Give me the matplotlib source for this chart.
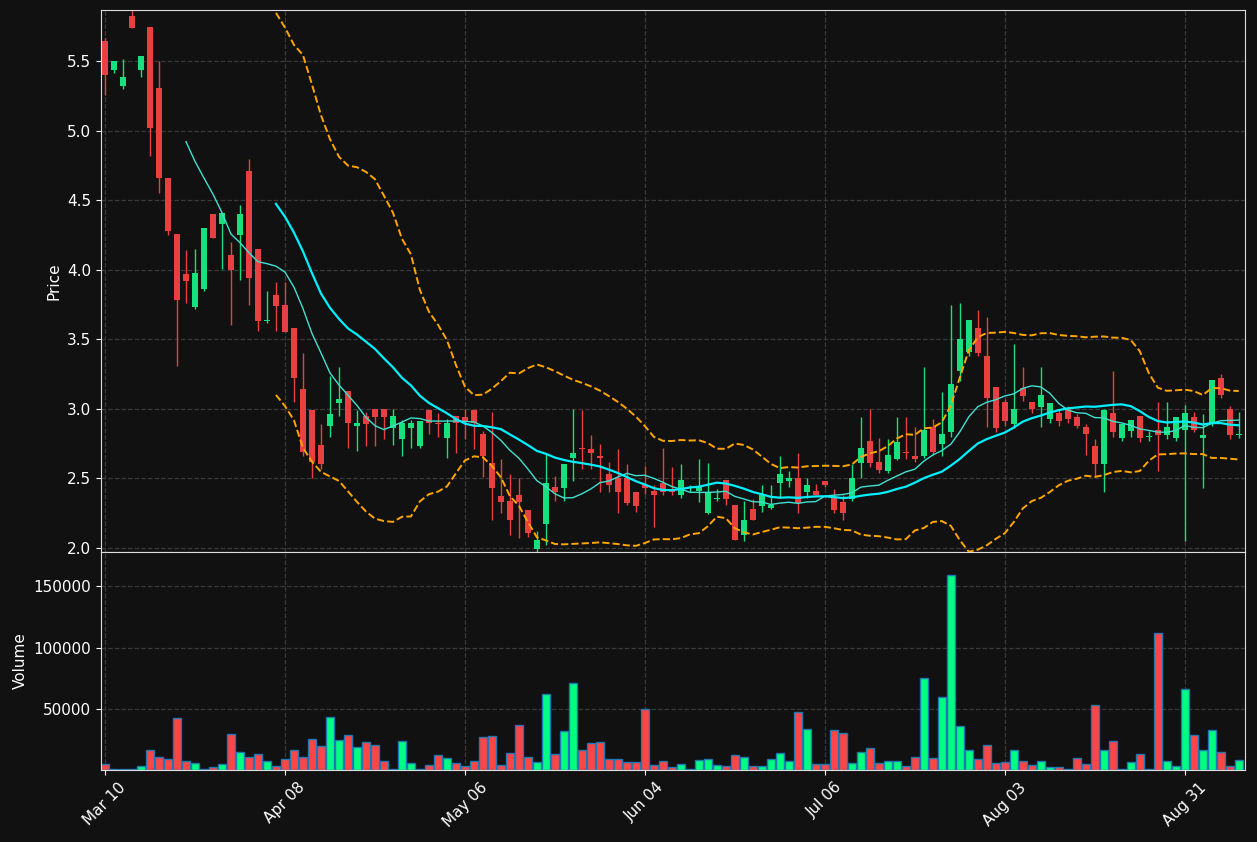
import numpy as np
import pandas as pd
import matplotlib
matplotlib.use("Agg")
import matplotlib.pyplot as plt

opens = [5.65,5.44,5.32,5.83,5.44,5.75,5.31,4.66,4.26,3.97,3.73,3.86,4.40,4.33,4.11,4.25,4.71,4.15,3.63,3.82,
         3.75,3.58,3.14,2.99,2.74,2.88,3.04,3.13,2.88,2.95,3.00,3.00,2.86,2.78,2.86,2.73,2.99,2.90,2.79,2.95,
         2.94,2.99,2.82,2.61,2.37,2.34,2.38,2.27,1.99,2.17,2.44,2.43,2.65,2.72,2.71,2.66,2.53,2.50,2.50,2.40,
         2.45,2.41,2.47,2.41,2.38,2.43,2.41,2.25,2.35,2.49,2.31,2.09,2.28,2.30,2.29,2.47,2.48,2.50,2.40,2.41,
         2.48,2.36,2.33,2.35,2.61,2.77,2.62,2.55,2.64,2.69,2.66,2.66,2.87,2.75,2.83,3.27,3.41,3.58,3.38,3.16,
         3.05,2.89,3.15,3.05,3.01,2.93,2.97,3.00,2.94,2.87,2.73,2.60,2.97,2.79,2.84,2.95,2.80,2.85,2.81,2.79,
         2.85,2.94,2.79,2.90,3.22,3.00,2.81]
highs = [5.67,5.50,5.52,5.90,5.54,5.75,5.50,4.66,4.26,4.14,4.15,4.30,4.40,4.41,4.20,4.47,4.80,4.15,3.85,3.91,
         3.91,3.58,3.40,2.99,2.89,3.24,3.30,3.13,2.99,2.98,3.00,3.00,3.00,2.92,2.92,2.91,2.99,2.97,2.93,2.95,
         3.00,2.99,2.84,2.98,2.64,2.53,2.50,2.27,2.12,2.68,2.52,2.60,3.00,2.99,2.81,2.75,2.62,2.71,2.60,2.40,
         2.59,2.45,2.72,2.58,2.60,2.45,2.64,2.61,2.42,2.49,2.31,2.34,2.35,2.45,2.45,2.66,2.55,2.68,2.50,2.46,
         2.48,2.42,2.38,2.60,2.94,3.00,2.79,2.78,2.94,2.94,2.87,3.30,2.93,3.12,3.75,3.76,3.64,3.71,3.66,3.16,
         3.07,3.47,3.30,3.05,3.30,3.04,3.00,3.02,2.96,2.89,2.78,3.00,3.27,2.89,2.92,2.95,2.84,3.05,3.05,2.94,
         3.03,2.98,2.96,3.21,3.25,3.02,2.98]
lows = [5.26,5.42,5.30,5.74,5.39,4.82,4.55,4.25,3.31,3.76,3.72,3.85,4.23,4.01,3.60,3.93,3.75,3.56,3.62,3.56,
        3.55,3.05,2.66,2.50,2.57,2.80,2.95,2.72,2.70,2.73,2.73,2.78,2.74,2.66,2.72,2.72,2.82,2.80,2.65,2.68,
        2.78,2.71,2.51,2.20,2.25,2.09,2.07,2.08,1.97,2.02,2.34,2.34,2.48,2.57,2.57,2.40,2.40,2.25,2.31,2.26,
        2.39,2.15,2.38,2.38,2.36,2.40,2.33,2.24,2.34,2.31,2.06,2.05,2.20,2.26,2.28,2.36,2.44,2.25,2.36,2.38,
        2.44,2.25,2.20,2.34,2.50,2.58,2.54,2.54,2.63,2.64,2.62,2.65,2.67,2.66,2.80,3.20,3.38,3.38,2.87,2.83,
        2.88,2.86,3.06,2.97,2.87,2.90,2.88,2.90,2.86,2.67,2.51,2.40,2.80,2.77,2.80,2.76,2.77,2.55,2.78,2.77,
        2.05,2.83,2.43,2.88,3.08,2.78,2.79]
closes = [5.40,5.50,5.39,5.74,5.54,5.02,4.66,4.28,3.78,3.92,3.98,4.30,4.23,4.41,4.00,4.40,3.94,3.63,3.64,3.74,
          3.55,3.22,2.69,2.62,2.60,2.96,3.07,2.90,2.90,2.89,2.94,2.94,2.95,2.90,2.90,2.91,2.90,2.89,2.90,2.90,
          2.91,2.90,2.66,2.43,2.33,2.20,2.33,2.11,2.06,2.47,2.40,2.60,2.68,2.71,2.68,2.65,2.45,2.40,2.32,2.30,
          2.43,2.38,2.40,2.40,2.49,2.43,2.44,2.40,2.35,2.35,2.06,2.20,2.20,2.38,2.31,2.53,2.50,2.32,2.45,2.38,
          2.45,2.27,2.25,2.50,2.72,2.61,2.56,2.67,2.76,2.68,2.64,2.85,2.69,2.82,3.18,3.50,3.64,3.40,3.08,2.86,
          2.91,3.00,3.09,3.00,3.10,3.04,2.91,2.93,2.88,2.82,2.60,2.99,2.83,2.89,2.92,2.79,2.80,2.81,2.87,2.94,
          2.97,2.85,2.81,3.21,3.10,2.81,2.82]
volumes = [4600,1000,1000,500,3000,16000,10300,8600,42700,7000,5400,1000,2200,4600,29700,14300,11000,12700,7000,3000,
           8600,16000,11000,25600,19200,43500,24800,28900,18400,23200,20800,7000,1000,24000,5400,500,3800,11900,9500,5400,
           3000,7000,27300,28100,3800,13500,37000,10300,6200,62100,12700,32100,71000,16700,22400,23200,8600,8600,6200,6200,
           50000,3800,7000,2200,4600,500,7800,8600,3800,3000,11900,10300,3000,3000,8600,13500,7000,47500,33800,4600,
           4600,32900,30500,5400,14300,17600,5400,7000,7000,3000,11000,75000,9500,59700,159000,36200,16700,8600,20800,5400,
           6200,16000,7000,3800,7000,2200,2200,500,9500,4600,53200,16000,24000,500,6200,12700,500,111500,7000,3000,
           66200,28900,16000,32900,15100,3000,7800]
tick_pos = [0, 20, 40, 60, 80, 100, 120]
tick_labels = ["Mar 10", "Apr 08", "May 06", "Jun 04", "Jul 06", "Aug 03", "Aug 31"]

BG = "#111111"
RED_C, GRN_C = "#e84040", "#19e07f"
RED_V, GRN_V = "#ff4646", "#00ff80"

o = np.array(opens); h = np.array(highs); l = np.array(lows); c = np.array(closes)
x = np.arange(len(c))
s = pd.Series(c)
ma10 = s.rolling(10).mean()
ma20 = s.rolling(20).mean()
sd20 = s.rolling(20).std(ddof=0)
up = ma20 + 2 * sd20
lo = ma20 - 2 * sd20

fig = plt.figure(figsize=(12.57, 8.42), dpi=100, facecolor=BG)
ax = fig.add_axes([0.0803, 0.3444, 0.9102, 0.6437])
axv = fig.add_axes([0.0803, 0.0855, 0.9102, 0.2589], sharex=ax)
for a in (ax, axv):
    a.set_facecolor(BG)
    for sp in a.spines.values():
        sp.set_color("#dddddd")
    a.tick_params(colors="white", labelsize=11)
    a.grid(True, color="#3a3a3a", linestyle="--", linewidth=0.9)
    a.set_axisbelow(True)

cols = [GRN_C if cc >= oo else RED_C for oo, cc in zip(o, c)]
vcols = [GRN_V if cc >= oo else RED_V for oo, cc in zip(o, c)]
ax.vlines(x, l, h, colors=cols, linewidth=1)
body_h = np.maximum(np.abs(c - o), 0.008)
ax.bar(x, body_h, bottom=np.minimum(o, c), width=0.62, color=cols, linewidth=0)
ax.plot(x, ma10, color="#40e0d0", linewidth=1)
ax.plot(x, ma20, color="#00f0ff", linewidth=1.6)
ax.plot(x, up, color="#ffa500", linestyle="--", linewidth=1.4)
ax.plot(x, lo, color="#ffa500", linestyle="--", linewidth=1.4)
ax.set_ylim(1.97, 5.87)
ax.set_ylabel("Price", color="white", fontsize=11)
plt.setp(ax.get_xticklabels(), visible=False)
ax.tick_params(axis="x", length=0)

axv.bar(x, volumes, width=0.9, color=vcols, edgecolor="#1f77b4", linewidth=1)
axv.set_ylim(0, 178000)
axv.set_yticks([50000, 100000, 150000])
axv.set_ylabel("Volume", color="white", fontsize=11)
axv.set_xlim(-0.45, len(c) - 0.3)
axv.set_xticks(tick_pos)
axv.set_xticklabels(tick_labels, rotation=45, ha="center")

fig.savefig("out.png", dpi=100, facecolor=BG)
